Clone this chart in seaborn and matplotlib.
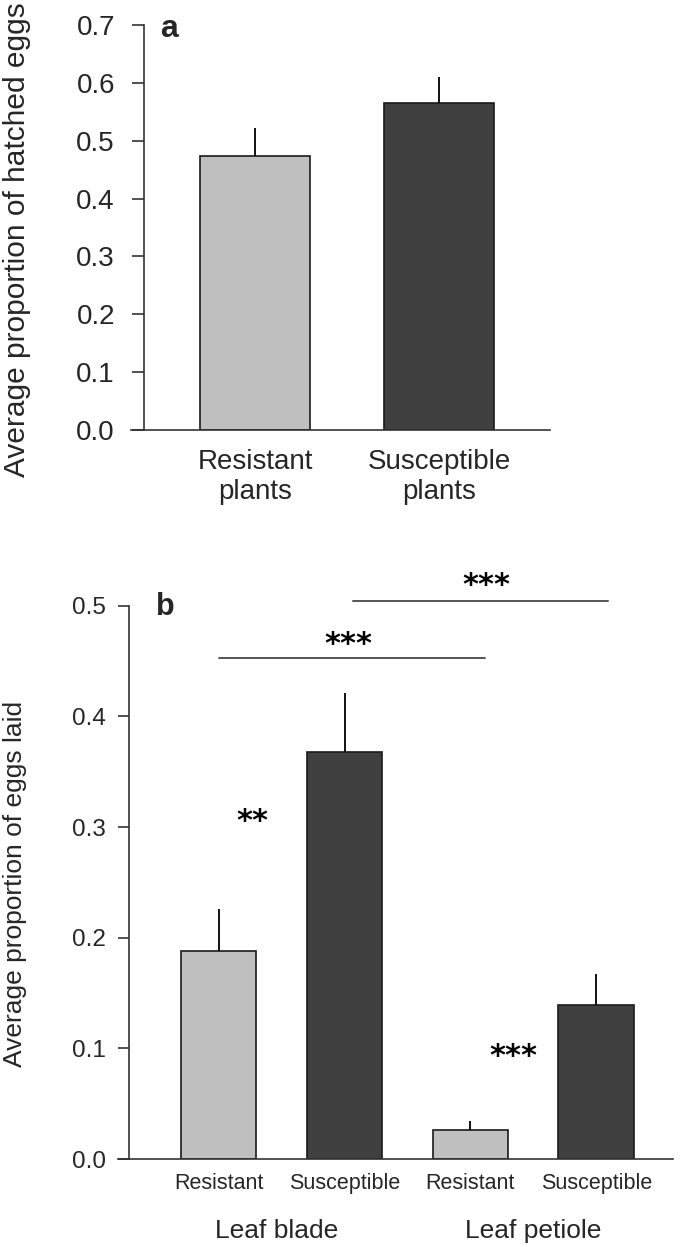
import matplotlib
matplotlib.use("Agg")
import matplotlib.pyplot as plt
import seaborn as sns
import pandas as pd

# panel a: proportion of hatched eggs
hatch_groups = ["Resistant\nplants", "Susceptible\nplants"]
hatch_mean = [0.474, 0.565]
hatch_se = [0.048, 0.045]

# panel b: proportion of eggs laid, by tissue and plant type
lay_tissue = ["Leaf blade", "Leaf blade", "Leaf petiole", "Leaf petiole"]
lay_plant = ["Resistant", "Susceptible", "Resistant", "Susceptible"]
lay_mean = [0.188, 0.368, 0.026, 0.139]
lay_se = [0.038, 0.053, 0.008, 0.028]

LIGHT = "#bfbfbf"
DARK = "#404040"
W, H = 685, 1247

sns.set_theme(style="ticks")
plt.rcParams["font.family"] = ["Liberation Sans", "DejaVu Sans"]
plt.rcParams["axes.edgecolor"] = "#333333"
plt.rcParams["axes.linewidth"] = 1.2

fig = plt.figure(figsize=(W / 100, H / 100), dpi=100)

# ---- panel a ----
ax1 = fig.add_axes([131 / W, 1 - 430 / H, 419 / W, 405 / H])
df_a = pd.DataFrame({"group": hatch_groups, "mean": hatch_mean})
sns.barplot(data=df_a, x="group", y="mean", hue="group", palette=[LIGHT, DARK],
            width=0.6, edgecolor="#1a1a1a", linewidth=1.2, legend=False, ax=ax1)
ax1.errorbar(range(len(hatch_mean)), hatch_mean, yerr=[[0] * len(hatch_se), hatch_se],
             fmt="none", ecolor="black", elinewidth=1.3, capsize=0)
ax1.set_xlim(-0.674, 1.603)
ax1.set_ylim(0, 0.7)
ax1.set_yticks([0, 0.1, 0.2, 0.3, 0.4, 0.5, 0.6, 0.7])
ax1.set_yticklabels([f"{v:.1f}" for v in ax1.get_yticks()])
ax1.spines["left"].set_position(("data", -0.603))
sns.despine(ax=ax1)
ax1.tick_params(axis="y", labelsize=20, length=9, width=1.2, pad=12, color="#333333")
ax1.tick_params(axis="x", labelsize=20, length=0, pad=14)
ax1.set_xlabel("")
ax1.set_ylabel("")
fig.text(17 / W, 1 - 240 / H, "Average proportion of hatched eggs", rotation=90,
         ha="center", va="center", fontsize=21.5)
fig.text(160 / W, 1 - 37 / H, "a", fontsize=23, fontweight="bold", ha="left", va="baseline")

# ---- panel b ----
ax2 = fig.add_axes([118 / W, 1 - 1159 / H, 555 / W, 553.3 / H])
keys = [f"{t}|{p}" for t, p in zip(lay_tissue, lay_plant)]
df_b = pd.DataFrame({"key": keys, "plant": lay_plant, "mean": lay_mean})
sns.barplot(data=df_b, x="key", y="mean", hue="plant", palette=[LIGHT, DARK],
            width=0.6, dodge=False, edgecolor="#1a1a1a", linewidth=1.2, legend=False, ax=ax2)
ax2.errorbar(range(len(lay_mean)), lay_mean, yerr=[[0] * len(lay_se), lay_se],
             fmt="none", ecolor="black", elinewidth=1.3, capsize=0)
ax2.set_xlim(-0.80, 3.61)
ax2.set_ylim(0, 0.5)
ax2.set_yticks([0, 0.1, 0.2, 0.3, 0.4, 0.5])
ax2.set_yticklabels([f"{v:.1f}" for v in ax2.get_yticks()])
ax2.set_xticks(range(len(lay_plant)))
ax2.set_xticklabels(lay_plant)
ax2.spines["left"].set_position(("data", -0.71))
sns.despine(ax=ax2)
ax2.tick_params(axis="y", labelsize=17.5, length=8, width=1.2, pad=9, color="#333333")
ax2.tick_params(axis="x", labelsize=15.5, length=0, pad=10)
ax2.set_xlabel("")
ax2.set_ylabel("")

# group labels under the plant labels
for tissue, xpos in [("Leaf blade", 0.46), ("Leaf petiole", 2.5)]:
    ax2.text(xpos, -0.065, tissue, fontsize=19, ha="center", va="center", clip_on=False)

# significance brackets and stars
star_kw = dict(fontsize=22, fontweight="bold", ha="center", va="center",
               family=["DejaVu Sans"], color="black", clip_on=False)
ax2.plot([0.0, 2.12], [0.453, 0.453], color="#555555", lw=1.4, clip_on=False)
ax2.text(1.03, 0.465, "***", **star_kw)
ax2.plot([1.07, 3.09], [0.504, 0.504], color="#555555", lw=1.4, clip_on=False)
ax2.text(2.13, 0.5186, "***", **star_kw)
ax2.text(0.27, 0.305, "**", **star_kw)
ax2.text(2.34, 0.0925, "***", **star_kw)

fig.text(15 / W, 1 - 884 / H, "Average proportion of eggs laid", rotation=90,
         ha="center", va="center", fontsize=19)
fig.text(156 / W, 1 - 615 / H, "b", fontsize=22, fontweight="bold", ha="left", va="baseline")

fig.savefig("out.png", dpi=100)
